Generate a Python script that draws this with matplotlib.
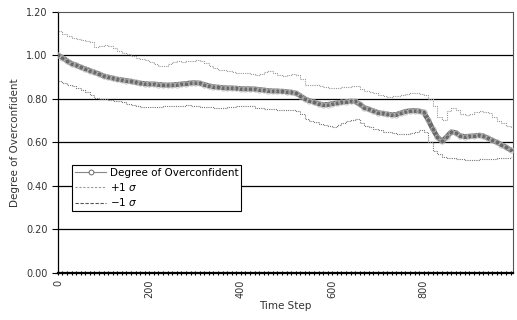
import numpy as np
import matplotlib
matplotlib.use("Agg")
import matplotlib.pyplot as plt
from matplotlib.lines import Line2D
from matplotlib.ticker import MultipleLocator, FormatStrFormatter

# time steps (read every 10 steps)
steps = list(range(0, 1000, 10))

mean_vals = [
    1.000, 0.990, 0.975, 0.962, 0.955, 0.945, 0.938, 0.930, 0.922, 0.915,
    0.905, 0.900, 0.895, 0.890, 0.887, 0.884, 0.880, 0.876, 0.872, 0.870,
    0.868, 0.868, 0.866, 0.864, 0.863, 0.864, 0.866, 0.868, 0.870, 0.873,
    0.874, 0.872, 0.866, 0.860, 0.856, 0.853, 0.852, 0.850, 0.850, 0.848,
    0.847, 0.846, 0.846, 0.845, 0.843, 0.840, 0.838, 0.836, 0.836, 0.834,
    0.833, 0.830, 0.826, 0.815, 0.800, 0.792, 0.785, 0.778, 0.773, 0.774,
    0.778, 0.781, 0.784, 0.787, 0.789, 0.788, 0.775, 0.760, 0.752, 0.745,
    0.737, 0.733, 0.730, 0.727, 0.728, 0.735, 0.742, 0.745, 0.746, 0.744,
    0.738, 0.703, 0.660, 0.625, 0.605, 0.625, 0.648, 0.645, 0.630, 0.627,
    0.628, 0.630, 0.632, 0.630, 0.620, 0.610, 0.600, 0.590, 0.578, 0.565,
]

upper_vals = [
    1.113, 1.100, 1.090, 1.080, 1.075, 1.072, 1.068, 1.060, 1.040, 1.042,
    1.048, 1.045, 1.035, 1.020, 1.010, 1.005, 0.998, 0.990, 0.982, 0.978,
    0.968, 0.960, 0.953, 0.950, 0.958, 0.968, 0.972, 0.970, 0.972, 0.975,
    0.978, 0.976, 0.965, 0.950, 0.940, 0.935, 0.933, 0.930, 0.925, 0.921,
    0.920, 0.918, 0.915, 0.910, 0.915, 0.922, 0.926, 0.918, 0.910, 0.905,
    0.910, 0.913, 0.912, 0.890, 0.866, 0.862, 0.862, 0.860, 0.855, 0.850,
    0.849, 0.851, 0.853, 0.856, 0.858, 0.857, 0.845, 0.838, 0.832, 0.828,
    0.820, 0.812, 0.808, 0.812, 0.815, 0.818, 0.822, 0.826, 0.826, 0.822,
    0.818, 0.800, 0.765, 0.715, 0.705, 0.745, 0.758, 0.748, 0.730, 0.725,
    0.730, 0.740, 0.745, 0.742, 0.734, 0.718, 0.698, 0.688, 0.676, 0.667,
]

lower_vals = [
    0.880, 0.872, 0.865, 0.858, 0.850, 0.842, 0.830, 0.818, 0.806, 0.800,
    0.798, 0.795, 0.790, 0.788, 0.786, 0.778, 0.772, 0.766, 0.764, 0.762,
    0.762, 0.762, 0.763, 0.765, 0.766, 0.765, 0.766, 0.768, 0.770, 0.768,
    0.766, 0.764, 0.763, 0.762, 0.760, 0.757, 0.758, 0.762, 0.764, 0.766,
    0.768, 0.766, 0.765, 0.760, 0.758, 0.755, 0.753, 0.752, 0.750, 0.747,
    0.748, 0.748, 0.746, 0.730, 0.708, 0.700, 0.692, 0.685, 0.678, 0.674,
    0.673, 0.680, 0.690, 0.698, 0.704, 0.706, 0.690, 0.676, 0.670, 0.662,
    0.655, 0.650, 0.647, 0.643, 0.640, 0.640, 0.640, 0.645, 0.650, 0.655,
    0.650, 0.600, 0.560, 0.545, 0.535, 0.530, 0.528, 0.525, 0.522, 0.520,
    0.520, 0.521, 0.522, 0.522, 0.523, 0.525, 0.527, 0.528, 0.530, 0.532,
]

x_ticks = [0, 200, 400, 600, 800]
y_ticks = [0.0, 0.2, 0.4, 0.6, 0.8, 1.0, 1.2]

plt.rcParams['font.family'] = ['DejaVu Sans']

fig = plt.figure(figsize=(5.17, 3.2), dpi=100)
ax = fig.add_axes([0.112, 0.147, 0.880, 0.816])

# horizontal grid lines
for y in y_ticks[1:-1]:
    ax.axhline(y, color='black', lw=0.9, zorder=1)

ax.plot(steps, upper_vals, color='#999999', lw=0.8, ls=(0, (1, 1)),
        drawstyle='steps-post', zorder=2)
ax.plot(steps, lower_vals, color='#777777', lw=0.8, ls=(0, (1, 1)),
        drawstyle='steps-post', zorder=2)
# the dense run of markers reads as a dark hatched band
ax.plot(steps, mean_vals, color='#6a6a6a', lw=3.6, solid_capstyle='round', zorder=3)
ax.plot(steps, mean_vals, ls='none', marker='o', markersize=3.8,
        markerfacecolor='none', markeredgecolor='#bdbdbd', markeredgewidth=0.6,
        zorder=4)

ax.set_xlim(0, 995)
ax.set_ylim(0, 1.2)
ax.set_xticks(x_ticks)
ax.xaxis.set_minor_locator(MultipleLocator(10))
ax.set_yticks(y_ticks)
ax.yaxis.set_major_formatter(FormatStrFormatter('%.2f'))

ax.tick_params(axis='x', which='major', labelsize=7, labelrotation=90,
               length=3, direction='inout', colors='black', labelcolor='#333333')
ax.tick_params(axis='x', which='minor', length=3, direction='inout', width=0.8)
ax.tick_params(axis='y', labelsize=7, length=4, direction='out',
               labelcolor='#333333')

ax.spines['bottom'].set_linewidth(1.6)
ax.spines['left'].set_linewidth(0.9)
for side in ['top', 'right']:
    ax.spines[side].set_linestyle((0, (1, 1)))
    ax.spines[side].set_color('#555555')
    ax.spines[side].set_linewidth(0.8)

ax.set_xlabel('Time Step', fontsize=7.5, color='#333333', labelpad=2)
ax.set_ylabel('Degree of Overconfident', fontsize=7.5, color='#333333', labelpad=4)

handles = [
    Line2D([], [], color='#888888', lw=0.8, marker='o', markersize=3.5,
           markerfacecolor='white', markeredgecolor='#555555', markeredgewidth=0.6),
    Line2D([], [], color='#999999', lw=0.8, ls=(0, (2, 1.5))),
    Line2D([], [], color='#555555', lw=0.8, ls=(0, (3, 1.5))),
]
labels = ['Degree of Overconfident', '+1 $\\sigma$', '\u22121 $\\sigma$']
leg = ax.legend(handles, labels,
                loc='upper left', bbox_to_anchor=(0.031, 0.414), fontsize=7.5,
                frameon=True, fancybox=False, framealpha=1, borderpad=0.3,
                handlelength=3.0, handletextpad=0.3, labelspacing=0.3,
                borderaxespad=0)
leg.get_frame().set_edgecolor('black')
leg.get_frame().set_linewidth(0.8)

fig.savefig('out.png', dpi=100)
